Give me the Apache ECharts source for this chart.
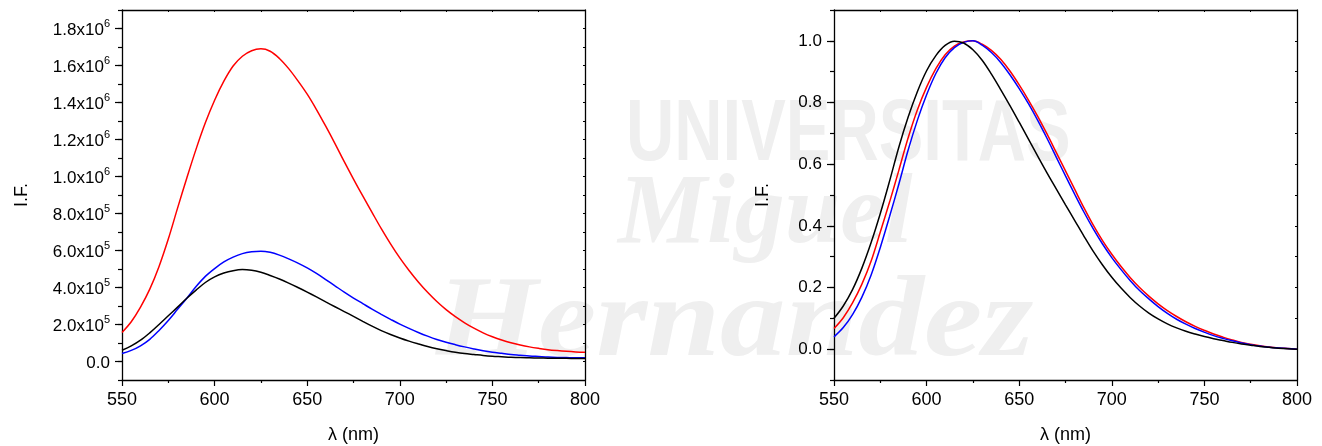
<!DOCTYPE html>
<html>
<head>
<meta charset="utf-8">
<title>Emission spectra</title>
<script src="https://cdn.jsdelivr.net/npm/echarts@6/dist/echarts.min.js"></script>
<style>
  html, body { margin: 0; padding: 0; background: #fff; }
  #chart { width: 1322px; height: 446px; }
</style>
</head>
<body>
<div id="chart"></div>
<script>
// Wavelength grid (nm)
const wavelength = [550, 555, 560, 565, 570, 575, 580, 585, 590, 595,
  600, 605, 610, 615, 620, 625, 630, 635, 640, 645,
  650, 655, 660, 665, 670, 675, 680, 685, 690, 695,
  700, 705, 710, 715, 720, 725, 730, 735, 740, 745,
  750, 755, 760, 765, 770, 775, 780, 785, 790, 795, 800];

// Left panel: fluorescence intensity (counts)
const intensityRed = [157000, 215000, 294000, 391000, 514000, 662000, 829000, 992000, 1148000, 1290000,
  1412000, 1515000, 1597000, 1650000, 1680000, 1690000, 1677000, 1638000, 1583000, 1517000,
  1445000, 1362000, 1272000, 1178000, 1080000, 986000, 895000, 806000, 718000, 636000,
  560000, 492000, 430000, 374000, 324000, 280000, 242000, 209000, 180000, 155000,
  134000, 116000, 101000, 89000, 79000, 71000, 64000, 59000, 55000, 52000, 50000];

const intensityBlue = [43000, 60000, 85000, 120000, 168000, 222000, 282000, 342000, 405000, 460000,
  502000, 538000, 564000, 583000, 593000, 596000, 590000, 575000, 555000, 532000,
  506000, 476000, 443000, 409000, 375000, 343000, 313000, 283000, 255000, 228000,
  202000, 179000, 157000, 137000, 119000, 104000, 91000, 79000, 68000, 58000,
  50000, 44000, 38000, 34000, 30000, 27000, 24000, 22000, 21000, 20000, 20000];

const intensityBlack = [61000, 84000, 115000, 155000, 200000, 247000, 294000, 342000, 386000, 427000,
  457000, 478000, 491000, 497000, 493000, 482000, 465000, 446000, 424000, 400000,
  375000, 349000, 322000, 296000, 270000, 244000, 217000, 191000, 167000, 146000,
  127000, 110000, 95000, 81000, 69000, 59000, 50000, 43000, 38000, 33000,
  29000, 26000, 23000, 21000, 20000, 19000, 18000, 17000, 17000, 16000, 16000];

// Right panel: normalized intensity
const normRed = [0.067, 0.102, 0.15, 0.21, 0.285, 0.38, 0.477, 0.58, 0.685, 0.776,
  0.85, 0.91, 0.955, 0.983, 0.996, 1.0, 0.989, 0.969, 0.94, 0.902,
  0.857, 0.808, 0.755, 0.698, 0.638, 0.578, 0.518, 0.458, 0.402, 0.352,
  0.308, 0.268, 0.232, 0.2, 0.172, 0.147, 0.125, 0.106, 0.089, 0.074,
  0.061, 0.049, 0.039, 0.03, 0.022, 0.016, 0.011, 0.007, 0.004, 0.002, 0.0];

const normBlue = [0.04, 0.07, 0.112, 0.168, 0.24, 0.33, 0.43, 0.535, 0.645, 0.742,
  0.825, 0.894, 0.945, 0.978, 0.995, 1.0, 0.986, 0.962, 0.93, 0.89,
  0.845, 0.796, 0.742, 0.684, 0.623, 0.562, 0.502, 0.444, 0.39, 0.341,
  0.297, 0.258, 0.222, 0.19, 0.163, 0.138, 0.116, 0.097, 0.081, 0.067,
  0.055, 0.044, 0.035, 0.027, 0.02, 0.014, 0.01, 0.006, 0.004, 0.002, 0.0];

const normBlack = [0.10, 0.14, 0.193, 0.262, 0.345, 0.44, 0.545, 0.655, 0.752, 0.835,
  0.903, 0.952, 0.985, 0.999, 0.993, 0.971, 0.937, 0.892, 0.842, 0.79,
  0.736, 0.681, 0.626, 0.572, 0.52, 0.468, 0.417, 0.366, 0.317, 0.273,
  0.233, 0.198, 0.167, 0.14, 0.117, 0.098, 0.082, 0.069, 0.058, 0.049,
  0.041, 0.034, 0.028, 0.022, 0.017, 0.013, 0.009, 0.006, 0.003, 0.001, 0.0];

// Tick labels
const intensityTicks = [0, 200000, 400000, 600000, 800000, 1000000, 1200000, 1400000, 1600000, 1800000];
const normTicks = [0, 0.2, 0.4, 0.6, 0.8, 1.0];

const FONT = '"Liberation Sans", Arial, sans-serif';
const INK = '#000';

function sciLabel(v) {
  if (Math.abs(v) < 1e-9) return '{m|0.0}';
  const e = Math.floor(Math.log10(v) + 1e-9);
  const m = v / Math.pow(10, e);
  return '{m|' + m.toFixed(1) + 'x10}{e|' + e + '}';
}

function pairs(xs, ys) { return xs.map((x, i) => [x, ys[i]]); }

const axisLineStyle = { color: INK, width: 1.3 };

function xAxesFor(grid) {
  return [
    {
      gridIndex: grid, type: 'value', position: 'bottom',
      min: 550, max: 800, interval: 50,
      axisLine: { show: true, onZero: false, lineStyle: axisLineStyle },
      axisTick: { show: true, inside: false, length: 6, lineStyle: { color: INK, width: 1.2 } },
      minorTick: { show: true, splitNumber: 2, length: 3, lineStyle: { color: INK, width: 1.2 } },
      axisLabel: { fontSize: 18, fontFamily: FONT, color: INK, margin: 11 },
      splitLine: { show: false },
      name: 'λ (nm)', nameLocation: 'middle', nameGap: 46,
      nameTextStyle: { fontSize: 18, fontFamily: FONT, color: INK }
    },
    {
      gridIndex: grid, type: 'value', position: 'top',
      min: 550, max: 800, interval: 25,
      axisLine: { show: true, onZero: false, lineStyle: axisLineStyle },
      axisTick: { show: true, inside: true, length: 2, lineStyle: { color: INK } },
      axisLabel: { show: false }, splitLine: { show: false }
    }
  ];
}

function yAxesFor(grid, min, max, step, majors, fmt, gap) {
  return [
    {
      gridIndex: grid, type: 'value', position: 'left',
      min: min, max: max, interval: step,
      axisLine: { show: true, onZero: false, lineStyle: axisLineStyle },
      axisTick: { show: true, inside: false, length: 7, customValues: majors, lineStyle: { color: INK, width: 1.2 } },
      axisLabel: {
        customValues: majors, formatter: fmt, margin: 12,
        fontSize: 17, fontFamily: FONT, color: INK,
        rich: {
          m: { fontSize: 17, fontFamily: FONT, color: INK, lineHeight: 21, verticalAlign: 'bottom' },
          e: { fontSize: 11, fontFamily: FONT, color: INK, lineHeight: 12, verticalAlign: 'top' }
        }
      },
      splitLine: { show: false },
      name: 'I.F.', nameLocation: 'middle', nameGap: gap, nameRotate: 90,
      nameTextStyle: { fontSize: 18, fontFamily: FONT, color: INK }
    },
    {
      gridIndex: grid, type: 'value', position: 'left',
      min: min, max: max, interval: step,
      axisLine: { show: false },
      axisTick: { show: true, inside: false, length: 4, lineStyle: { color: INK, width: 1.2 } },
      axisLabel: { show: false }, splitLine: { show: false }
    },
    {
      gridIndex: grid, type: 'value', position: 'right',
      min: min, max: max, interval: step,
      axisLine: { show: true, onZero: false, lineStyle: axisLineStyle },
      axisTick: { show: true, inside: true, length: 2, lineStyle: { color: INK } },
      axisLabel: { show: false }, splitLine: { show: false }
    }
  ];
}

function line(name, xi, yi, data, color) {
  return {
    name: name, type: 'line', xAxisIndex: xi, yAxisIndex: yi,
    data: data, showSymbol: false, smooth: 0.35, silent: true,
    lineStyle: { color: color, width: 1.5 }, z: 5
  };
}

// Faint institutional watermark drawn behind the plots
const markColor = '#efefef';
const watermark = [
  { type: 'text', left: 626, top: 92, z: -10, silent: true,
    style: { text: 'UNIVERSITAS', font: 'bold 88px "Liberation Sans", Arial, sans-serif', fill: markColor },
    scaleX: 0.76 },
  { type: 'text', left: 618, top: 166, z: -10, silent: true,
    style: { text: 'Miguel', font: 'italic bold 100px "Liberation Serif", "DejaVu Serif", serif', fill: markColor } },
  { type: 'text', left: 436, top: 268, z: -10, silent: true,
    style: { text: 'Hernandez', font: 'italic bold 115px "Liberation Serif", "DejaVu Serif", serif', fill: markColor },
    scaleX: 1.14 }
];

const chart = echarts.init(document.getElementById('chart'), null, { renderer: 'canvas' });
chart.setOption({
  backgroundColor: '#fff',
  animation: false,
  graphic: watermark,
  grid: [
    { left: 122, top: 10, width: 463, height: 370, outerBoundsMode: 'none', containLabel: false },
    { left: 834, top: 10, width: 463, height: 370, outerBoundsMode: 'none', containLabel: false }
  ],
  xAxis: [].concat(xAxesFor(0), xAxesFor(1)),
  yAxis: [].concat(
    yAxesFor(0, -100000, 1900000, 100000, intensityTicks, sciLabel, 91),
    yAxesFor(1, -0.1, 1.1, 0.1, normTicks, v => v.toFixed(1), 62)
  ),
  series: [
    line('red', 0, 0, pairs(wavelength, intensityRed), '#ff0000'),
    line('blue', 0, 0, pairs(wavelength, intensityBlue), '#0000ff'),
    line('black', 0, 0, pairs(wavelength, intensityBlack), '#000000'),
    line('red', 2, 3, pairs(wavelength, normRed), '#ff0000'),
    line('blue', 2, 3, pairs(wavelength, normBlue), '#0000ff'),
    line('black', 2, 3, pairs(wavelength, normBlack), '#000000')
  ]
});
</script>
</body>
</html>
